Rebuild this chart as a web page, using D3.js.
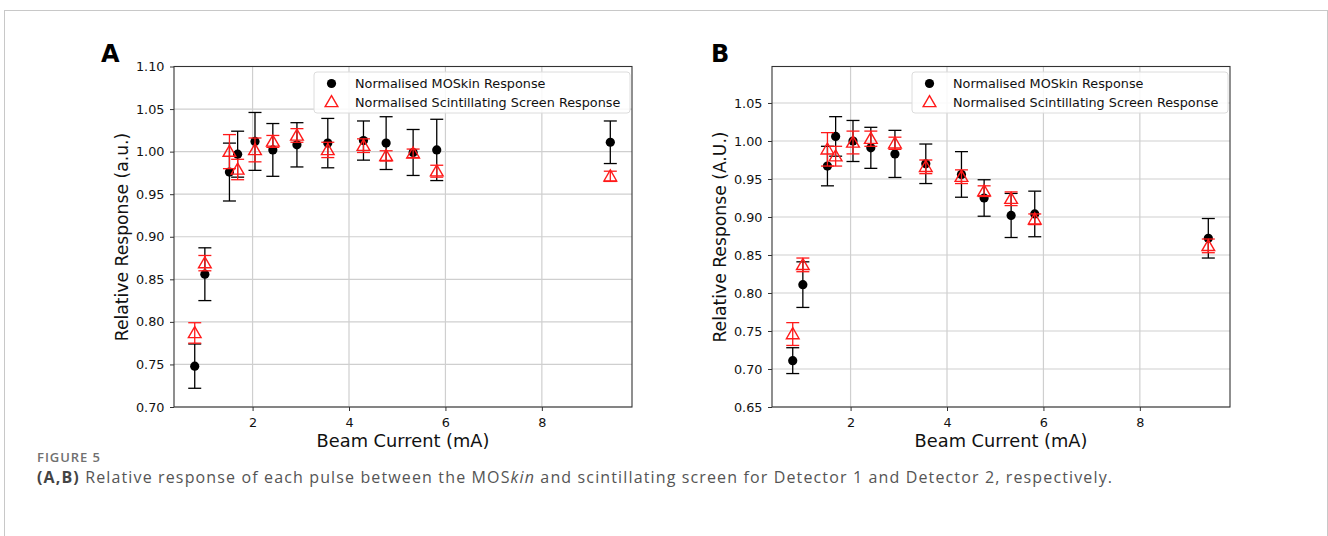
<!DOCTYPE html>
<html>
<head>
<meta charset="utf-8">
<script src="https://cdn.jsdelivr.net/npm/d3@7"></script>
<style>
  body { margin: 0; background: #fff; }
  svg { display: block; }
</style>
</head>
<body>
<svg id="fig" width="1328" height="536"></svg>
<script>
// beam currents (mA), shared by both detectors
var current = [0.80, 1.01, 1.52, 1.69, 2.05, 2.42, 2.92, 3.56, 4.30, 4.77, 5.33, 5.82, 9.42];

// Detector 1 (panel A)
var mosA    = [0.748, 0.856, 0.976, 0.997, 1.012, 1.002, 1.008, 1.010, 1.013, 1.010, 0.999, 1.002, 1.011];
var mosAErr = [0.026, 0.031, 0.034, 0.027, 0.034, 0.031, 0.026, 0.029, 0.023, 0.031, 0.027, 0.036, 0.025];
var scrA    = [0.787, 0.869, 1.000, 0.979, 1.002, 1.012, 1.019, 1.002, 1.007, 0.995, 0.998, 0.977, 0.971];
var scrAErr = [0.012, 0.009, 0.020, 0.012, 0.014, 0.007, 0.008, 0.009, 0.008, 0.006, 0.005, 0.007, 0.006];

// Detector 2 (panel B)
var mosB    = [0.711, 0.811, 0.967, 1.006, 1.000, 0.991, 0.983, 0.970, 0.956, 0.925, 0.902, 0.904, 0.872];
var mosBErr = [0.017, 0.030, 0.026, 0.026, 0.027, 0.027, 0.031, 0.026, 0.030, 0.024, 0.029, 0.030, 0.026];
var scrB    = [0.746, 0.837, 0.989, 0.980, 0.998, 1.003, 0.997, 0.966, 0.953, 0.934, 0.924, 0.897, 0.862];
var scrBErr = [0.015, 0.009, 0.022, 0.013, 0.015, 0.010, 0.008, 0.009, 0.009, 0.007, 0.009, 0.007, 0.009];

var yTicksA = [0.70, 0.75, 0.80, 0.85, 0.90, 0.95, 1.00, 1.05, 1.10];
var yTicksB = [0.65, 0.70, 0.75, 0.80, 0.85, 0.90, 0.95, 1.00, 1.05];
var xTicks = [2, 4, 6, 8];

var svg = d3.select("#fig");

// figure frame
svg.append("rect")
  .attr("x", 4.5).attr("y", 10.5)
  .attr("width", 1323).attr("height", 540)
  .attr("fill", "none").attr("stroke", "#c8c8c8");

function panel(opt) {
  var x = d3.scaleLinear().domain([0.37, 9.87]).range([opt.left, opt.left + 458]);
  var y = d3.scaleLinear().domain(opt.ydom).range([407, 66.5]);
  var g = svg.append("g");

  // grid
  g.selectAll(".gx").data(xTicks).enter().append("line")
    .attr("x1", d => x(d)).attr("x2", d => x(d))
    .attr("y1", 66.5).attr("y2", 407)
    .attr("stroke", "#cfcfcf").attr("stroke-width", 1.2);
  g.selectAll(".gy").data(opt.yticks).enter().append("line")
    .attr("x1", opt.left).attr("x2", opt.left + 458)
    .attr("y1", d => y(d)).attr("y2", d => y(d))
    .attr("stroke", "#cfcfcf").attr("stroke-width", 1.2);

  // axes
  var xa = g.append("g").attr("transform", "translate(0,407)")
    .call(d3.axisBottom(x).tickValues(xTicks).tickFormat(d3.format("d")).tickSize(4).tickSizeOuter(0));
  var ya = g.append("g").attr("transform", "translate(" + opt.left + ",0)")
    .call(d3.axisLeft(y).tickValues(opt.yticks).tickFormat(d3.format(".2f")).tickSize(4).tickSizeOuter(0));
  [xa, ya].forEach(function (a) {
    a.select(".domain").remove();
    a.selectAll("line").attr("stroke", "#333");
    a.selectAll("text").attr("font-family", "DejaVu Sans").attr("font-size", 12.8).attr("fill", "#111");
  });
  xa.selectAll("text").attr("dy", "1.05em");
  ya.selectAll("text").attr("dx", "-0.2em");

  g.append("rect")
    .attr("x", opt.left).attr("y", 66.5).attr("width", 458).attr("height", 340.5)
    .attr("fill", "none").attr("stroke", "#333").attr("stroke-width", 1.1);

  // error bars + markers
  function series(vals, errs, color) {
    var s = g.append("g");
    var pts = current.map((c, i) => ({ c: c, v: vals[i], e: errs[i] }));
    s.selectAll(".eb").data(pts).enter().append("line")
      .attr("x1", d => x(d.c)).attr("x2", d => x(d.c))
      .attr("y1", d => y(d.v - d.e)).attr("y2", d => y(d.v + d.e))
      .attr("stroke", color).attr("stroke-width", 1.3);
    [-1, 1].forEach(function (sgn) {
      s.selectAll(".cap").data(pts).enter().append("line")
        .attr("x1", d => x(d.c) - 6.5).attr("x2", d => x(d.c) + 6.5)
        .attr("y1", d => y(d.v + sgn * d.e)).attr("y2", d => y(d.v + sgn * d.e))
        .attr("stroke", color).attr("stroke-width", 1.3);
    });
    return { s: s, pts: pts };
  }
  var m = series(opt.mos, opt.mosErr, "#000");
  m.s.selectAll("circle").data(m.pts).enter().append("circle")
    .attr("cx", d => x(d.c)).attr("cy", d => y(d.v)).attr("r", 4.6).attr("fill", "#000");
  var r = series(opt.scr, opt.scrErr, "#ff1a1a");
  var tri = d3.symbol().type(d3.symbolTriangle).size(70);
  r.s.selectAll("path.mk").data(r.pts).enter().append("path")
    .attr("transform", d => "translate(" + x(d.c) + "," + (y(d.v) + 1) + ")")
    .attr("d", tri).attr("fill", "none").attr("stroke", "#ff1a1a").attr("stroke-width", 1.4);

  // legend
  var lg = g.append("g").attr("transform", "translate(" + (opt.left + 140) + ",72)");
  lg.append("rect").attr("x", 0).attr("y", 0).attr("width", 316).attr("height", 41).attr("rx", 3)
    .attr("fill", "rgba(255,255,255,0.85)").attr("stroke", "#dcdcdc");
  lg.append("circle").attr("cx", 17.5).attr("cy", 11.5).attr("r", 4.6).attr("fill", "#000");
  lg.append("path").attr("transform", "translate(17.5,31)").attr("d", tri)
    .attr("fill", "none").attr("stroke", "#ff1a1a").attr("stroke-width", 1.4);
  lg.selectAll("text").data(["Normalised MOSkin Response", "Normalised Scintillating Screen Response"])
    .enter().append("text")
    .attr("x", 41).attr("y", (d, i) => 16 + i * 19)
    .attr("font-family", "DejaVu Sans").attr("font-size", 12.8).attr("fill", "#111")
    .text(d => d);

  // titles
  g.append("text").attr("x", opt.left + 229).attr("y", 447)
    .attr("text-anchor", "middle").attr("font-family", "DejaVu Sans").attr("font-size", 17.8).attr("fill", "#111")
    .text("Beam Current (mA)");
  g.append("text").attr("transform", "translate(" + (opt.left - 46) + ",237) rotate(-90)")
    .attr("text-anchor", "middle").attr("font-family", "DejaVu Sans").attr("font-size", 17.2).attr("fill", "#111")
    .text(opt.ylabel);
  g.append("text").attr("x", opt.left + opt.tagDx).attr("y", 62)
    .attr("font-family", "DejaVu Sans").attr("font-weight", "bold").attr("font-size", 24).attr("fill", "#000")
    .text(opt.tag);
}

panel({ left: 174, ydom: [0.70, 1.10], yticks: yTicksA, mos: mosA, mosErr: mosAErr, scr: scrA, scrErr: scrAErr,
  ylabel: "Relative Response (a.u.)", tag: "A", tagDx: -73 });
panel({ left: 772, ydom: [0.65, 1.098], yticks: yTicksB, mos: mosB, mosErr: mosBErr, scr: scrB, scrErr: scrBErr,
  ylabel: "Relative Response (A.U.)", tag: "B", tagDx: -61 });

// caption
svg.append("text").attr("x", 37).attr("y", 462)
  .attr("font-family", "Open Sans").attr("font-weight", 600).attr("font-size", 13).attr("fill", "#707070")
  .attr("textLength", 63).attr("lengthAdjust", "spacing")
  .text("FIGURE 5");
var cap = svg.append("text").attr("x", 37).attr("y", 483)
  .attr("font-family", "Open Sans").attr("font-size", 16).attr("fill", "#555")
  .attr("textLength", 1075).attr("lengthAdjust", "spacing");
cap.append("tspan").attr("font-weight", "bold").attr("fill", "#444").text("(A,B)");
cap.append("tspan").text(" Relative response of each pulse between the MOS");
cap.append("tspan").attr("font-style", "italic").text("kin");
cap.append("tspan").text(" and scintillating screen for Detector 1 and Detector 2, respectively.");
</script>
</body>
</html>
